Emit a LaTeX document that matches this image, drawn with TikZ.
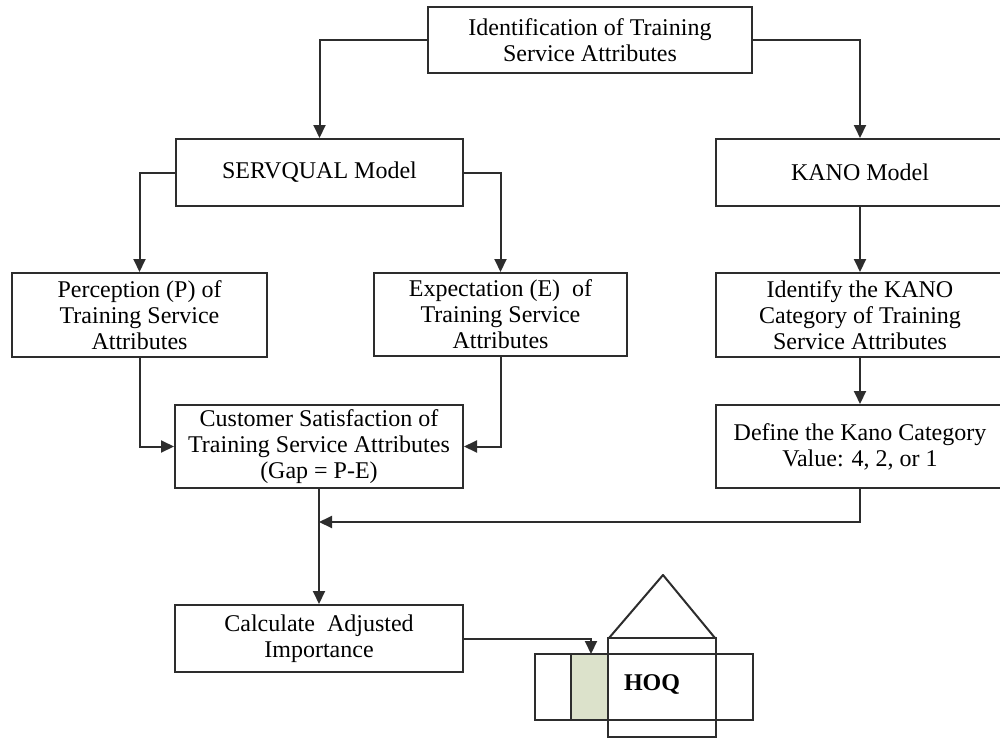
\documentclass[tikz,border=0pt]{standalone}
\usepackage{fontspec}
\setmainfont{Liberation Serif}
\usetikzlibrary{arrows.meta}
\definecolor{inkline}{RGB}{45,45,45}
\definecolor{hoqgreen}{RGB}{220,226,203}
\tikzset{
  flowbox/.style={draw=inkline, line width=1pt, align=center, inner sep=0pt,
    font=\fontsize{12}{13}\selectfont, text=black},
  link/.style={draw=inkline, line width=1pt},
  arrowlink/.style={link, -{Triangle[width=6pt,length=6.5pt]}},
  hoqpart/.style={draw=inkline, line width=1pt}
}
\begin{document}
\begin{tikzpicture}[x=0.5pt,y=-0.5pt]
  \useasboundingbox (0,0) rectangle (1000,738);
  \begin{scope}
  \clip (0,0) rectangle (1000,738);

  % process boxes
  \node[flowbox, minimum width=162pt, minimum height=33pt] (ident) at (590,40)
    {Identification of Training\\Service Attributes};
  \node[flowbox, minimum width=143.5pt, minimum height=33.5pt] (servqual) at (319.5,172.5)
    {SERVQUAL Model};
  \node[flowbox, minimum width=144pt, minimum height=33.5pt] (kano) at (860,172.5)
    {KANO Model};
  \node[flowbox, minimum width=127.5pt, minimum height=42pt] (percep) at (139.5,315)
    {Perception (P) of\\Training Service\\Attributes};
  \node[flowbox, minimum width=126.5pt, minimum height=41.5pt] (expect) at (500.5,314.5)
    {Expectation (E)\ \ of\\Training Service\\Attributes};
  \node[flowbox, minimum width=144pt, minimum height=42pt] (identify) at (860,315)
    {Identify the KANO\\Category of Training\\Service Attributes};
  \node[flowbox, minimum width=144pt, minimum height=41.5pt] (customer) at (319,446.5)
    {Customer Satisfaction of\\Training Service Attributes\\(Gap = P-E)};
  \node[flowbox, minimum width=144pt, minimum height=41.5pt] (define) at (860,446.5)
    {Define the Kano Category\\Value: 4, 2, or 1};
  \node[flowbox, minimum width=144pt, minimum height=33.5pt] (calc) at (319,638.5)
    {Calculate\ \ Adjusted\\Importance};

  % house of quality
  \fill[hoqgreen] (571,654) rectangle (608,720);
  \node[hoqpart, minimum width=109pt, minimum height=33pt, inner sep=0pt] (hoqrow) at (644,687) {};
  \draw[hoqpart] (571,654) -- (571,720);
  \node[hoqpart, minimum width=54pt, minimum height=49.5pt, inner sep=0pt] (hoqcore) at (662,687.5) {};
  \draw[hoqpart, line join=round] (609,638) -- (663,575) -- (715,638);
  \node[font=\fontsize{12}{13}\selectfont\bfseries] (hoqlabel) at (652,684) {HOQ};

  % junction points
  \coordinate (join) at (319,522);
  \coordinate (hoqin) at (591,654);

  % connectors
  \draw[arrowlink] (ident.west) -| (servqual.north);
  \draw[arrowlink] (ident.east) -| (kano.north);
  \draw[arrowlink] (servqual.west) -| (percep.north);
  \draw[arrowlink] (servqual.east) -| (expect.north);
  \draw[arrowlink] (kano.south) -- (identify.north);
  \draw[arrowlink] (identify.south) -- (define.north);
  \draw[arrowlink] (percep.south) |- (customer.west);
  \draw[arrowlink] (expect.south) |- (customer.east);
  \draw[arrowlink] (define.south) |- (join);
  \draw[arrowlink] (customer.south) -- (calc.north);
  \draw[arrowlink] (calc.east) -| (hoqin);
  \end{scope}
\end{tikzpicture}
\end{document}
